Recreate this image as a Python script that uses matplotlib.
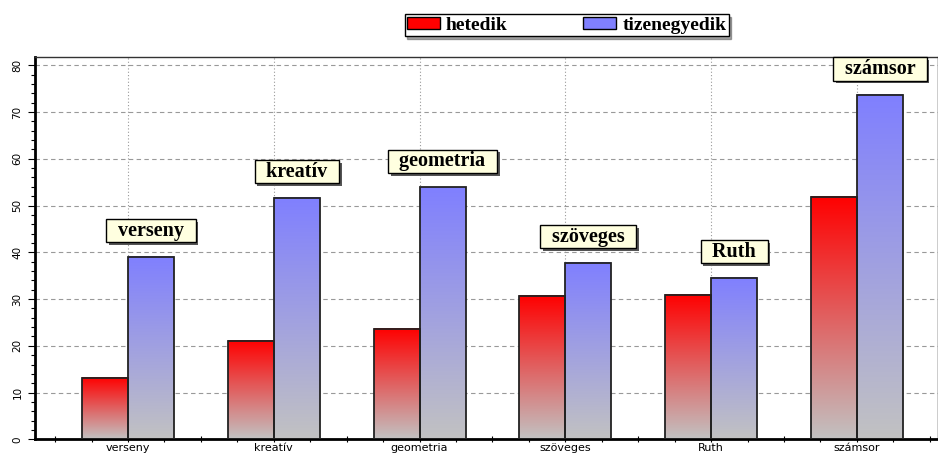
import numpy as np
import matplotlib.pyplot as plt
from matplotlib.patches import Patch
from matplotlib.ticker import MultipleLocator
import matplotlib.patheffects as pe

categories = ['verseny', 'kreatív', 'geometria', 'szöveges', 'Ruth', 'számsor']
hetedik = [13.2, 21.1, 23.7, 30.7, 30.9, 51.8]
tizenegyedik = [39.0, 51.6, 53.9, 37.7, 34.5, 73.6]
series_names = ['hetedik', 'tizenegyedik']

red_top, red_bottom = np.array([1.0, 0.0, 0.0]), np.array([0.76, 0.76, 0.76])
blue_top, blue_bottom = np.array([0.5, 0.5, 1.0]), np.array([0.76, 0.76, 0.76])


def gradient_bars(ax, bars, top, bottom):
    t = np.linspace(0, 1, 256)[:, None]
    img = bottom + (top - bottom) * t
    img = img[:, None, :]
    for r in bars:
        x0, w, h = r.get_x(), r.get_width(), r.get_height()
        ax.imshow(img, extent=(x0, x0 + w, 0, h), origin='lower',
                  aspect='auto', zorder=2, interpolation='bilinear')


fig = plt.figure(figsize=(9.38, 4.55), dpi=100)
ax = fig.add_axes([0.0373, 0.0345, 0.9627, 0.8405])

x = np.arange(len(categories))
w = 0.315
b1 = ax.bar(x - w / 2, hetedik, w, fill=False, edgecolor='#222222', linewidth=1.3, zorder=3)
b2 = ax.bar(x + w / 2, tizenegyedik, w, fill=False, edgecolor='#222222', linewidth=1.3, zorder=3)
gradient_bars(ax, b1, red_top, red_bottom)
gradient_bars(ax, b2, blue_top, blue_bottom)

# labels above the blue bars
for xi, cat, v in zip(x, categories, tizenegyedik):
    ax.text(xi + w / 2, v + 5.6, '  ' + cat + '  ', ha='center', va='center',
            family='Liberation Serif', fontweight='bold', fontsize=14.5, zorder=5,
            bbox=dict(boxstyle='square,pad=0.08', facecolor='#ffffe0', edgecolor='black', linewidth=1,
                      path_effects=[pe.withSimplePatchShadow(offset=(2, -2), shadow_rgbFace='#555555', alpha=1)]))

ax.set_xlim(-0.638, 5.556)
ax.set_ylim(0, 81.8)
ax.set_xticks(x)
ax.set_xticklabels(categories, fontsize=8, family='DejaVu Sans')
ax.xaxis.set_minor_locator(MultipleLocator(0.25))
ax.yaxis.set_major_locator(MultipleLocator(10))
ax.yaxis.set_minor_locator(MultipleLocator(2))
for lab in ax.get_yticklabels():
    lab.set_rotation(90)
    lab.set_va('center')
    lab.set_fontsize(7.5)
ax.tick_params(axis='x', which='both', direction='inout', length=5, width=0.8, pad=0.5)
ax.tick_params(axis='y', which='major', direction='out', length=5, width=0.8, pad=4)
ax.tick_params(axis='y', which='minor', direction='out', length=3, width=0.8)

ax.grid(axis='y', which='major', linestyle=(0, (4, 3)), color='#999999', linewidth=0.8, zorder=0)
ax.grid(axis='x', which='major', linestyle=(0, (1, 2)), color='#999999', linewidth=0.8, zorder=0)
ax.set_axisbelow(True)

ax.spines['left'].set_linewidth(2)
ax.spines['bottom'].set_linewidth(2)
ax.spines['top'].set_linewidth(1)
ax.spines['top'].set_color('#333333')
ax.spines['right'].set_linewidth(1)

handles = [Patch(facecolor='#ff0000', edgecolor='black'),
           Patch(facecolor='#8080ff', edgecolor='black')]
leg = fig.legend(handles, series_names, loc='center', bbox_to_anchor=(0.604, 0.945),
                 ncol=2, frameon=True, fancybox=False, shadow=True, columnspacing=3.9,
                 handlelength=1.7, handleheight=0.6, handletextpad=0.3, borderpad=0.12,
                 borderaxespad=0,
                 prop=dict(family='Liberation Serif', weight='bold', size=14))
leg.get_frame().set_edgecolor('black')
leg.get_frame().set_linewidth(1)

fig.savefig('out.png', dpi=100)
